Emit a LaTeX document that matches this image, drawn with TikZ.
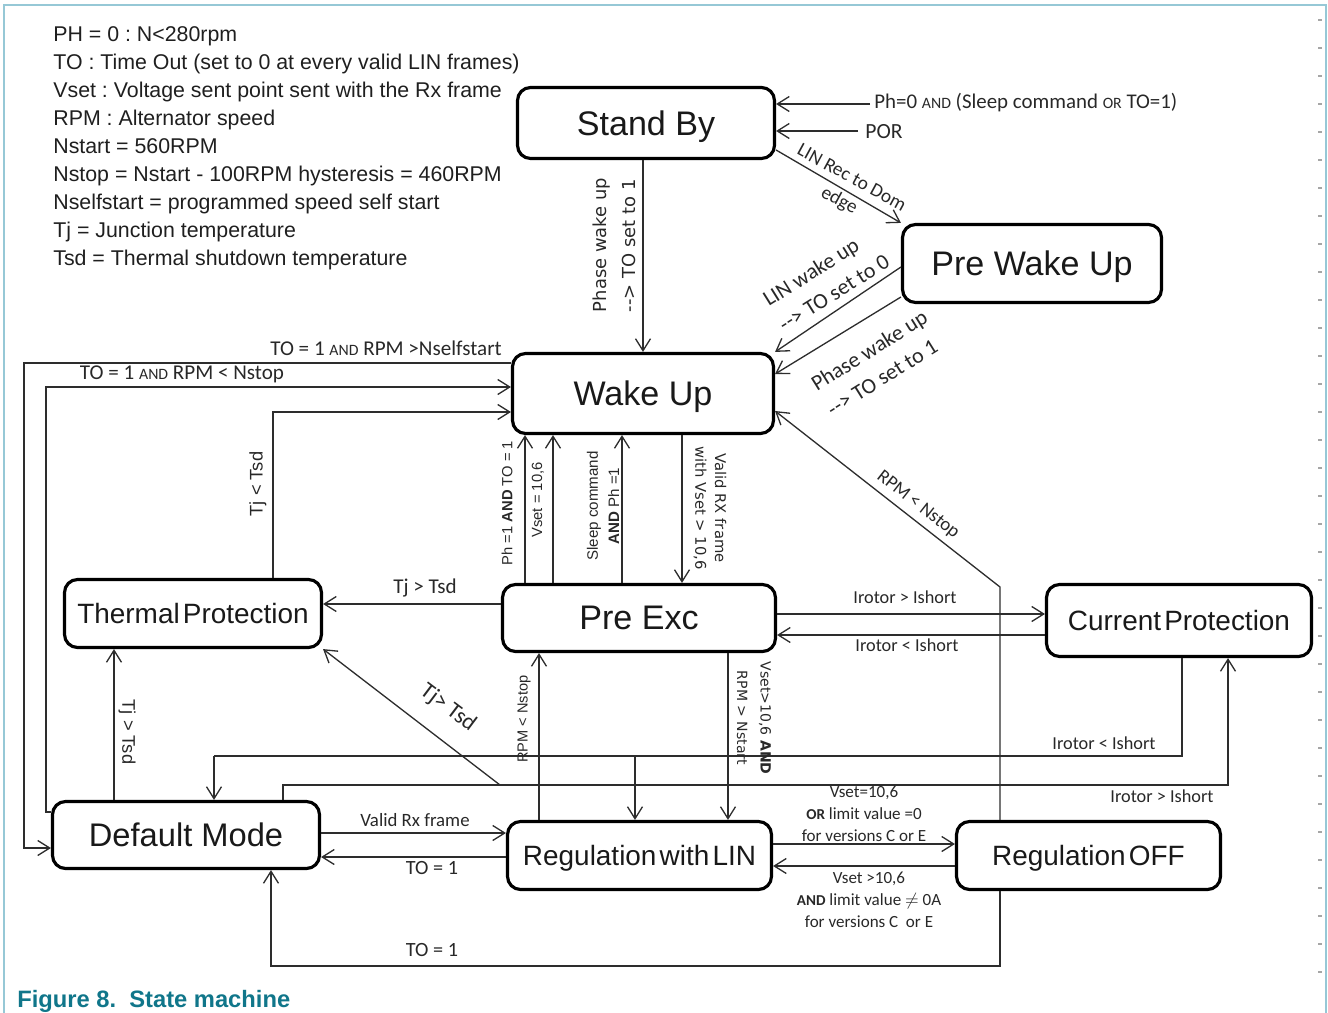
\documentclass[tikz,border=0pt]{standalone}
\usepackage{fontspec}
\setmainfont{Liberation Sans}
\newfontfamily\arialf{Liberation Sans}
\newfontfamily\calf{Carlito}
\newfontfamily\verdf{DejaVu Sans}
\usetikzlibrary{arrows.meta}
\newcommand\fsz[2]{\fontsize{#1}{#2}\selectfont}
\newcommand\smcap[2]{{\fontsize{#1}{#1}\selectfont #2}}
\definecolor{bordercol}{RGB}{150,200,214}
\definecolor{capcol}{RGB}{16,118,138}
\definecolor{lncol}{RGB}{45,45,45}
\definecolor{txcol}{RGB}{40,40,40}
\frenchspacing
\begin{document}
\begin{tikzpicture}[x=0.02cm,y=-0.02cm,
  state/.style={draw=black, line width=1.8pt, rounded corners=2.6mm, align=center, inner sep=0pt, text depth=0pt, font=\arialf, text=black!90},
  bigstate/.style={state, font={\arialf\fsz{19.4}{22}}},
  smallstate/.style={state, font={\arialf\fsz{15.9}{18}}},
  conn/.style={draw=lncol, line width=0.75pt, -{Straight Barb[length=2.4mm,width=3mm]}},
  plain/.style={draw=lncol, line width=0.75pt},
  lab/.style={inner sep=0pt, text=txcol},
]
\useasboundingbox (0,0) rectangle (1328,1013);
% frame
\draw[bordercol, line width=0.9pt] (4,1013) -- (4,5) -- (1326,5) -- (1326,1013);
\foreach \yy in {20,48,...,975} \draw[black!35, line width=0.6pt] (1318,\yy) -- (1322,\yy);

% legend
\begin{scope}[every node/.style={anchor=base west, inner sep=0pt, font={\arialf\fsz{12.15}{14}}, text=black!88}]
\node (lg1) at (53,42) {PH = 0 : N<280rpm};
\node (lg2) at (53,69.9) {TO : Time Out (set to 0 at every valid LIN frames)};
\node (lg3) at (53,97.8) {Vset : Voltage sent point sent with the Rx frame};
\node (lg4) at (53,125.7) {RPM : Alternator speed};
\node (lg5) at (53,153.6) {Nstart = 560RPM};
\node (lg6) at (53,181.5) {Nstop = Nstart - 100RPM hysteresis = 460RPM};
\node (lg7) at (53,209.4) {Nselfstart = programmed speed self start};
\node (lg8) at (53,237.3) {Tj = Junction temperature};
\node (lg9) at (53,265.2) {Tsd = Thermal shutdown temperature};
\end{scope}

% states
\node[bigstate, minimum width=5.14cm, minimum height=1.42cm] (SB) at (646,123) {Stand By};
\node[bigstate, minimum width=5.18cm, minimum height=1.56cm] (PWU) at (1032,263.5) {Pre Wake Up};
\node[bigstate, minimum width=5.22cm, minimum height=1.60cm] (WU) at (643,393.5) {Wake Up};
\node[bigstate, minimum width=5.46cm, minimum height=1.34cm] (PE) at (639,618) {Pre Exc};
\node[smallstate, minimum width=5.14cm, minimum height=1.36cm] (TP) at (193,613.5) {Thermal\hspace{1.8pt}Protection};
\node[smallstate, minimum width=5.30cm, minimum height=1.44cm] (CP) at (1179,620.5) {Current\hspace{1.8pt}Protection};
\node[state, font={\arialf\fsz{18.6}{21}}, minimum width=5.34cm, minimum height=1.34cm] (DM) at (186,835) {Default Mode};
\node[smallstate, minimum width=5.28cm, minimum height=1.36cm] (RL) at (639.5,855.5) {Regulation\hspace{1.8pt}with\hspace{1.8pt}LIN};
\node[smallstate, minimum width=5.28cm, minimum height=1.36cm] (RO) at (1088.5,855.5) {Regulation\hspace{1.8pt}OFF};

% connectors
\coordinate (pSleep) at (870,104);
\coordinate (pPor) at (858,131);
\draw[conn] (pSleep) -- (SB.east |- pSleep);
\draw[conn] (pPor) -- (SB.east |- pPor);
\draw[conn] (SB.south -| 643,0) -- (WU.north -| 643,0);
\draw[conn] (SB.east |- 0,150) -- (PWU.north west);
\draw[conn] (PWU.west |- 0,267) -- (WU.north east);
\draw[conn] (PWU.west |- 0,297) -- (WU.east |- 0,374);
\draw[conn] (WU.west |- 0,363) -| (24,848) -- (DM.west |- 0,848);
\draw[conn] (DM.west |- 0,812) -| (46,387) -- (WU.west |- 0,387);
\draw[conn] (TP.north -| 273,0) |- (WU.west |- 0,412);
\draw[conn] (PE.west |- 0,604) -- (TP.east |- 0,604);
\foreach \xx in {525,553,622} \draw[conn] (PE.north -| \xx,0) -- (WU.south -| \xx,0);
\draw[conn] (WU.south -| 682,0) -- (PE.north -| 682,0);
\draw[conn] (PE.east |- 0,614) -- (CP.west |- 0,614);
\draw[conn] (CP.west |- 0,635) -- (PE.east |- 0,635);
\draw[conn] (RL.north -| 539,0) -- (PE.south -| 539,0);
\draw[conn] (PE.south -| 728,0) -- (RL.north -| 728,0);
\draw[conn] (DM.north -| 114,0) -- (TP.south -| 114,0);
\coordinate (busA) at (500,785);
\coordinate (busB) at (214,756);
\coordinate (busC) at (635,756);
\draw[conn] (DM.north -| 283,0) |- (1228,785) -- (CP.south -| 1228,0);
\draw[conn] (busA) -- (TP.south east);
\draw[plain] (CP.south -| 1182,0) |- (busB);
\draw[conn] (busB) -- (DM.north -| busB);
\draw[conn] (busC) -- (RL.north -| busC);
\draw[conn] (RO.north -| 1000,0) -- (1000,587) -- (WU.east |- 0,411);
\draw[conn] (RO.south -| 1000,0) |- (271,966) -- (DM.south -| 271,0);
\draw[conn] (DM.east |- 0,833) -- (RL.west |- 0,833);
\draw[conn] (RL.west |- 0,857) -- (DM.east |- 0,857);
\draw[conn] (RL.east |- 0,844) -- (RO.west |- 0,844);
\draw[conn] (RO.west |- 0,866) -- (RL.east |- 0,866);

% labels
\node[lab, anchor=west, font={\calf\fsz{11.9}{14}}] (lSleep) at (874,103) {Ph=0 \smcap{9}{AND} (Sleep command \smcap{9}{OR} TO=1)};
\node[lab, anchor=west, font={\calf\fsz{12.3}{14}}] (lPor) at (865,132) {POR};
\node[lab, rotate=90, align=left, font={\verdf\fsz{10.2}{16.4}}] (lPh1) at (614,245) {Phase wake up\\-{}-{}> TO set to 1};
\node[lab, rotate=-28.5, align=center, font={\calf\fsz{11}{14.7}}] (lLin) at (845,190) {LIN Rec to Dom\\edge};
\node[lab, rotate=32, align=left, font={\calf\fsz{12.5}{17}}] (lLw) at (826,280) {LIN wake up\\-{}-{}> TO set to 0};
\node[lab, rotate=32, align=left, font={\calf\fsz{12.5}{17}}] (lPw) at (877,363) {Phase wake up\\-{}-{}> TO set to 1};
\node[lab, font={\calf\fsz{12}{14}}] (lSelf) at (386,348) {TO = 1 \smcap{9}{AND} RPM >Nselfstart};
\node[lab, font={\calf\fsz{12}{14}}] (lNstop) at (182,374) {TO = 1 \smcap{9}{AND} RPM < Nstop};
\node[lab, rotate=90, font={\arialf\fsz{10.4}{12}}] (lTjl) at (258,484) {Tj < Tsd};
\node[lab, font={\calf\fsz{12}{14}}] (lTjg) at (425,588) {Tj > Tsd};
\node[lab, rotate=90, font={\arialf\fsz{8.4}{10}}] (lPhTO) at (507,503) {Ph =1 \textbf{AND} TO = 1};
\node[lab, rotate=90, font={\arialf\fsz{8.4}{10}}] (lVset) at (538,500) {Vset = 10,6};
\node[lab, rotate=90, align=center, font={\arialf\fsz{8.6}{12}}] (lSleepc) at (603,506) {Sleep command\\\textbf{AND} Ph =1};
\node[lab, rotate=-90, align=center, font={\verdf\fsz{8.4}{11.3}}] (lValid) at (710,508) {Valid RX frame\\with Vset > 10,6};
\node[lab, font={\calf\fsz{10.4}{12}}] (lIr1) at (905,597) {Irotor > Ishort};
\node[lab, font={\calf\fsz{10.4}{12}}] (lIr2) at (907,645) {Irotor < Ishort};
\node[lab, rotate=90, font={\arialf\fsz{8.3}{10}}] (lRpm) at (524,719) {RPM < Nstop};
\node[lab, rotate=-90, align=center, font={\verdf\fsz{8}{13.3}}] (lVst) at (754,718) {Vset>10,6 \textbf{AND}\\RPM > Nstart};
\node[lab, rotate=-90, font={\arialf\fsz{10.4}{12}}] (lTjd) at (127,732) {Tj > Tsd};
\node[lab, rotate=-37, font={\calf\fsz{13}{15}}] (lTjdiag) at (448,708) {Tj> Tsd};
\node[lab, rotate=-38, font={\calf\fsz{10.7}{13}}] (lRpmdiag) at (918,505) {RPM < Nstop};
\node[lab, font={\calf\fsz{10.4}{12}}] (lIr3) at (1104,743) {Irotor < Ishort};
\node[lab, font={\calf\fsz{10.4}{12}}] (lIr4) at (1162,796) {Irotor > Ishort};
\node[lab, font={\calf\fsz{10.7}{13}}] (lValidRx) at (415,820) {Valid Rx frame};
\node[lab, font={\calf\fsz{11.5}{13}}] (lTO1) at (432,868) {TO = 1};
\node[lab, font={\calf\fsz{11.5}{13}}] (lTO2) at (432,950) {TO = 1};
\node[lab, align=center, font={\calf\fsz{9.7}{12.5}}] (lOff1) at (864,814) {Vset=10,6\\\textbf{\smcap{8.6}{OR}} limit value =0\\for versions C or E};
\node[lab, align=center, font={\calf\fsz{9.7}{12.5}}] (lOff2) at (869,900) {Vset >10,6\\\textbf{\smcap{8.6}{AND}} limit value $\neq$ 0A\\for versions C\ \ or E};

% caption
\node[anchor=base west, inner sep=0pt, font={\arialf\bfseries\fsz{13.5}{16}}, text=capcol] (cap) at (17,1007.5) {Figure 8.\ \ State machine};
\end{tikzpicture}
\end{document}
